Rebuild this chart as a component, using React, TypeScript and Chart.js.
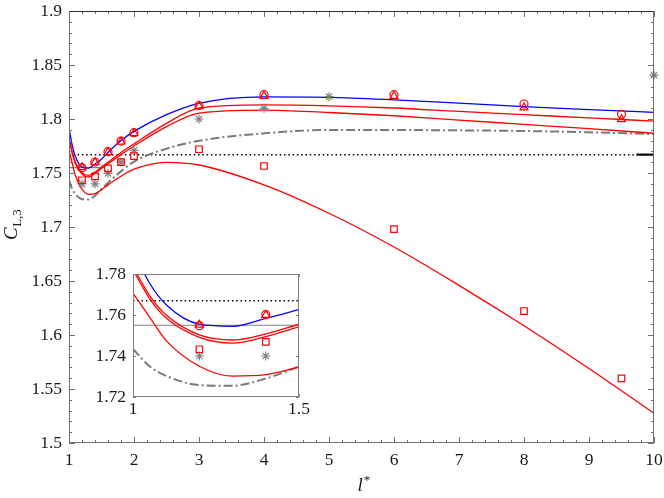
import React, { useEffect, useRef } from 'react';
import { Chart, registerables } from 'chart.js';

Chart.register(...registerables);

// ---------- data ----------
const curveX = [1, 1.05, 1.1, 1.2, 1.3, 1.4, 1.5, 1.6, 1.8, 2, 2.5, 3, 4, 5, 6, 7, 8, 9, 10];
const blueCurve = [1.7914, 1.7755, 1.765, 1.7555, 1.7545, 1.7584, 1.7628, 1.769, 1.78, 1.7885, 1.804, 1.8145, 1.8205, 1.8201, 1.8178, 1.8147, 1.8114, 1.8086, 1.8062];
const redUpperCurve = [1.7835, 1.7695, 1.76, 1.7503, 1.7478, 1.7508, 1.7555, 1.76, 1.769, 1.777, 1.796, 1.81, 1.813, 1.8122, 1.8102, 1.807, 1.804, 1.801, 1.7981];
const redLowerCurve = [1.782, 1.768, 1.7585, 1.7491, 1.7463, 1.7495, 1.7542, 1.7585, 1.767, 1.775, 1.793, 1.8055, 1.8083, 1.806, 1.803, 1.799, 1.795, 1.791, 1.7868];
const redLowCurve = [1.7706, 1.759, 1.7475, 1.735, 1.7302, 1.7309, 1.7346, 1.739, 1.747, 1.7535, 1.7599, 1.7574, 1.739, 1.7127, 1.6815, 1.646, 1.6085, 1.569, 1.5275];
const dashDotCurve = [1.7434, 1.735, 1.7303, 1.7258, 1.7255, 1.729, 1.7349, 1.741, 1.7515, 1.7605, 1.7725, 1.7798, 1.7867, 1.7898, 1.7898, 1.7895, 1.7889, 1.7877, 1.7861];

const markerX = [1.2, 1.4, 1.6, 1.8, 2, 3, 4, 6, 8, 9.5];
const circleY = [1.7548, 1.7602, 1.7697, 1.7796, 1.7873, 1.8125, 1.8225, 1.8225, 1.8139, 1.8043];
const triangleY = [1.7552, 1.76, 1.7692, 1.779, 1.7868, 1.812, 1.8212, 1.8212, 1.8105, 1.7997];
const squareY = [1.7433, 1.7469, 1.7543, 1.76, 1.7657, 1.772, 1.7565, 1.6981, 1.6222, 1.5599];
const starX = [1.2, 1.4, 1.6, 1.8, 2, 3, 4, 5, 10];
const starY = [1.74, 1.74, 1.7497, 1.76, 1.771, 1.8, 1.8099, 1.8207, 1.8407];

const dottedX = [1, 9.73];
const dottedY = [1.767, 1.767];
const solidBlackX = [9.73, 10];
const solidBlackY = [1.767, 1.767];
const grayLineX = [1, 1.5];
const grayLineY = [1.755, 1.755];

const xTicks = [1, 2, 3, 4, 5, 6, 7, 8, 9, 10];
const xTickLabels = ['1', '2', '3', '4', '5', '6', '7', '8', '9', '10'];
const yTicks = [1.5, 1.55, 1.6, 1.65, 1.7, 1.75, 1.8, 1.85, 1.9];
const yTickLabels = ['1.5', '1.55', '1.6', '1.65', '1.7', '1.75', '1.8', '1.85', '1.9'];

const insetXTicks = [1, 1.5];
const insetXTickLabels = ['1', '1.5'];
const insetYTicks = [1.72, 1.74, 1.76, 1.78];
const insetYTickLabels = ['1.72', '1.74', '1.76', '1.78'];

// ---------- style ----------
const FONT = '"Liberation Serif", "Times New Roman", serif';
const TEXT = '#1a1a1a';
const RED = '#ff0000';
const BLUE = '#0000ff';
const GRAY = '#808080';

const pts = (xs: number[], ys: number[]) => xs.map((x, i) => ({ x, y: ys[i] }));

function buildDatasets(markerClip: boolean): any[] {
  const clip = markerClip ? undefined : false;
  const marker = (data: any, style: string, r: number, color: string) => ({
    data,
    showLine: false,
    pointStyle: style,
    pointRadius: r,
    pointBorderColor: color,
    pointBackgroundColor: 'transparent',
    pointBorderWidth: 1.2,
    borderColor: color,
    backgroundColor: 'transparent',
    clip,
  });
  const curve = (data: any, color: string, width: number, dash: number[] = [], smooth = true) => ({
    data,
    borderColor: color,
    borderWidth: width,
    borderDash: dash,
    pointRadius: 0,
    fill: false,
    cubicInterpolationMode: smooth ? 'monotone' : 'default',
    tension: 0,
    borderCapStyle: 'butt',
  });
  return [
    marker(pts(markerX, circleY), 'circle', 4, RED),
    marker(pts(markerX, triangleY), 'triangle', 4.6, RED),
    marker(pts(markerX, squareY), 'rect', 4.6, RED),
    marker(pts(starX, starY), 'star', 4.5, GRAY),
    curve(pts(curveX, blueCurve), BLUE, 1.3),
    curve(pts(curveX, redUpperCurve), RED, 1.3),
    curve(pts(curveX, redLowerCurve), RED, 1.3),
    curve(pts(curveX, redLowCurve), RED, 1.3),
    curve(pts(curveX, dashDotCurve), '#7a7a7a', 2, [9, 3, 2, 3]),
    curve(pts(dottedX, dottedY), '#000000', 1.5, [1.5, 2.8], false),
    curve(pts(solidBlackX, solidBlackY), '#000000', 2.2, [], false),
    curve(pts(grayLineX, grayLineY), GRAY, 1.2, [], false),
  ];
}

type FrameCfg = {
  xMajor: number[];
  yMajor: number[];
  xMinorStep: number;
  yMinorStep: number;
  majorLen: number;
  minorLen: number;
  color: string;
  topColor: string;
  white?: boolean;
};

function framePlugin(cfg: FrameCfg) {
  return {
    id: 'frameTicks',
    beforeDatasetsDraw(chart: any) {
      if (!cfg.white) return;
      const { ctx, chartArea: a } = chart;
      ctx.save();
      ctx.fillStyle = '#ffffff';
      ctx.fillRect(a.left, a.top, a.right - a.left, a.bottom - a.top);
      ctx.restore();
    },
    afterDatasetsDraw(chart: any) {
      const { ctx, chartArea: a, scales } = chart;
      const xs = scales.x;
      const ys = scales.y;
      ctx.save();
      ctx.lineWidth = 1;
      ctx.strokeStyle = cfg.color;
      const isMajor = (v: number, arr: number[]) => arr.some((m) => Math.abs(m - v) < 1e-6);
      const line = (x1: number, y1: number, x2: number, y2: number) => {
        ctx.beginPath();
        ctx.moveTo(x1, y1);
        ctx.lineTo(x2, y2);
        ctx.stroke();
      };
      const xMin = xs.min, xMax = xs.max;
      const nx = Math.round((xMax - xMin) / cfg.xMinorStep);
      for (let i = 0; i <= nx; i++) {
        const v = xMin + i * cfg.xMinorStep;
        const L = isMajor(v, cfg.xMajor) ? cfg.majorLen : cfg.minorLen;
        if (L <= 0) continue;
        const px = Math.round(xs.getPixelForValue(v)) + 0.5;
        line(px, a.bottom, px, a.bottom - L);
        line(px, a.top, px, a.top + L);
      }
      const yMin = ys.min, yMax = ys.max;
      const ny = Math.round((yMax - yMin) / cfg.yMinorStep);
      for (let i = 0; i <= ny; i++) {
        const v = yMin + i * cfg.yMinorStep;
        const L = isMajor(v, cfg.yMajor) ? cfg.majorLen : cfg.minorLen;
        if (L <= 0) continue;
        const py = Math.round(ys.getPixelForValue(v)) + 0.5;
        line(a.left, py, a.left + L, py);
        line(a.right, py, a.right - L, py);
      }
      const l = Math.round(a.left) + 0.5, r = Math.round(a.right) - 0.5;
      const t = Math.round(a.top) + 0.5, b = Math.round(a.bottom) - 0.5;
      line(l, t, l, b);
      line(l, b, r, b);
      line(r, t, r, b);
      ctx.strokeStyle = cfg.topColor;
      line(l, t, r, t);
      ctx.restore();
    },
  };
}

const axisTitlePlugin = {
  id: 'axisTitles',
  afterDraw(chart: any) {
    const { ctx, chartArea: a } = chart;
    ctx.save();
    ctx.fillStyle = TEXT;
    ctx.textBaseline = 'alphabetic';
    ctx.textAlign = 'left';
    const cy = (a.top + a.bottom) / 2;
    ctx.save();
    ctx.translate(17, cy + 13);
    ctx.rotate(-Math.PI / 2);
    ctx.font = `italic 19px ${FONT}`;
    ctx.fillText('C', 0, 0);
    const w = ctx.measureText('C').width;
    ctx.font = `13px ${FONT}`;
    ctx.fillText('L,3', w + 0.5, 4);
    ctx.restore();
    const cx = (a.left + a.right) / 2;
    ctx.font = `italic 19px ${FONT}`;
    ctx.fillText('l', cx - 4, 491);
    const wl = ctx.measureText('l').width;
    ctx.font = `13px ${FONT}`;
    ctx.fillText('*', cx - 4 + wl + 1, 484);
    ctx.restore();
  },
};

const zeroPad = (s: any) => {
  s.paddingTop = 0;
  s.paddingBottom = 0;
  s.paddingLeft = 0;
  s.paddingRight = 0;
};

function makeScales(opts: {
  xMin: number; xMax: number; yMin: number; yMax: number;
  xT: number[]; xL: string[]; yT: number[]; yL: string[];
  xH: number; yW: number; xPad: number; yPad: number;
}) {
  const font = { family: FONT, size: 17.5 };
  return {
    x: {
      type: 'linear',
      min: opts.xMin,
      max: opts.xMax,
      afterBuildTicks: (s: any) => { s.ticks = opts.xT.map((v) => ({ value: v })); },
      afterFit: (s: any) => { s.height = opts.xH; zeroPad(s); },
      ticks: {
        callback: (_v: any, i: number) => opts.xL[i],
        font, color: TEXT, padding: opts.xPad, maxRotation: 0, minRotation: 0, autoSkip: false,
      },
      grid: { display: false, drawTicks: false },
      border: { display: false },
    },
    y: {
      type: 'linear',
      min: opts.yMin,
      max: opts.yMax,
      afterBuildTicks: (s: any) => { s.ticks = opts.yT.map((v) => ({ value: v })); },
      afterFit: (s: any) => { s.width = opts.yW; zeroPad(s); },
      ticks: {
        callback: (_v: any, i: number) => opts.yL[i],
        font, color: TEXT, padding: opts.yPad, autoSkip: false,
      },
      grid: { display: false, drawTicks: false },
      border: { display: false },
    },
  };
}

export default function App() {
  const mainRef = useRef<HTMLCanvasElement | null>(null);
  const insetRef = useRef<HTMLCanvasElement | null>(null);

  useEffect(() => {
    if (!mainRef.current || !insetRef.current) return;
    const main = new Chart(mainRef.current, {
      type: 'line',
      data: { datasets: buildDatasets(false) },
      options: {
        responsive: false,
        animation: false,
        events: [],
        layout: { autoPadding: false, padding: { top: 11, right: 10, left: 0, bottom: 0 } },
        plugins: { legend: { display: false }, tooltip: { enabled: false } },
        scales: makeScales({
          xMin: 1, xMax: 10, yMin: 1.5, yMax: 1.9,
          xT: xTicks, xL: xTickLabels, yT: yTicks, yL: yTickLabels,
          xH: 55, yW: 69, xPad: 7, yPad: 7,
        }) as any,
      },
      plugins: [
        framePlugin({
          xMajor: xTicks, yMajor: yTicks, xMinorStep: 0.2, yMinorStep: 0.01,
          majorLen: 6, minorLen: 3, color: '#707070', topColor: '#303030',
        }),
        axisTitlePlugin,
      ],
    } as any);

    const inset = new Chart(insetRef.current, {
      type: 'line',
      data: { datasets: buildDatasets(true) },
      options: {
        responsive: false,
        animation: false,
        events: [],
        layout: { autoPadding: false, padding: { top: 12, right: 21, left: 0, bottom: 0 } },
        plugins: { legend: { display: false }, tooltip: { enabled: false } },
        scales: makeScales({
          xMin: 1, xMax: 1.5, yMin: 1.72, yMax: 1.78,
          xT: insetXTicks, xL: insetXTickLabels, yT: insetYTicks, yL: insetYTickLabels,
          xH: 25, yW: 53, xPad: 2, yPad: 7,
        }) as any,
      },
      plugins: [
        framePlugin({
          xMajor: insetXTicks, yMajor: insetYTicks, xMinorStep: 0.5, yMinorStep: 0.02,
          majorLen: 3, minorLen: 3, color: '#808080', topColor: '#808080', white: true,
        }),
      ],
    } as any);

    return () => {
      main.destroy();
      inset.destroy();
    };
  }, []);

  return (
    <div style={{ position: 'absolute', left: 0, top: 0, width: 664, height: 498, background: '#ffffff' }}>
      <canvas ref={mainRef} width={664} height={498} style={{ position: 'absolute', left: 0, top: 0, width: 664, height: 498 }} />
      <canvas ref={insetRef} width={240} height={160} style={{ position: 'absolute', left: 80, top: 262, width: 240, height: 160 }} />
    </div>
  );
}
